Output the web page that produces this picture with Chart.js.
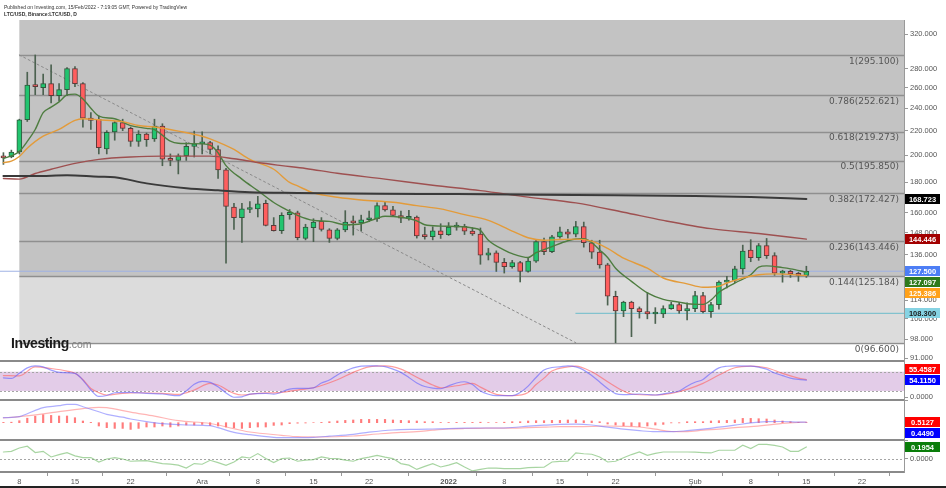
<!DOCTYPE html>
<html><head><meta charset="utf-8">
<script src="https://cdn.jsdelivr.net/npm/chart.js@4.4.1/dist/chart.umd.min.js"></script>
<style>
html,body{margin:0;padding:0;background:#fff;}
#wrap{position:relative;width:946px;height:488px;overflow:hidden;background:#fff;}
#c{position:absolute;left:0;top:0;}
.hdr{position:absolute;left:4px;font-family:'Liberation Sans',Arial,sans-serif;font-size:5px;line-height:6px;color:#333;white-space:nowrap;}
#logo{position:absolute;left:11px;top:335px;font-family:'Liberation Sans',Arial,sans-serif;white-space:nowrap;line-height:16px;}
#bottom{position:absolute;left:0;top:486px;width:946px;height:2px;background:#222;}
</style></head>
<body><div id="wrap">
<canvas id="c" width="946" height="488"></canvas>
<div class="hdr" style="top:4px">Published on Investing.com, 15/Feb/2022 - 7:19:05 GMT, Powered by TradingView</div>
<div class="hdr" style="top:11px;font-weight:bold">LTC/USD, Binance:LTC/USD, D</div>
<div id="logo"><span style="font-size:14px;font-weight:bold;color:#1b1b1b;letter-spacing:-0.4px">Investing</span><span style="font-size:10.5px;color:#7a7a7a">.com</span></div>
<div id="bottom"></div>
</div>
<script>
// ---------- DATA ----------
// days are counted from 8 Nov 2021 (day 0); first candle = 6 Nov 2021
const firstDay = -2;
const xTickDays   = [0, 7, 14, 23, 30, 37, 44, 54, 61, 68, 75, 85, 92, 99, 106];
const xTickLabels = ['8','15','22','Ara','8','15','22','2022','8','15','22','Şub','8','15','22'];
const priceTicks  = [320, 280, 260, 240, 220, 200, 180, 160, 148, 136, 114, 106, 98, 91];

const opens = [199,198.6,202.5,229.5,263,260,264,252,258,280,
  264,231,230,205,219,227,222,211,217,213,
  224,197,196,199.6,207,209,210,204.5,189,163.5,
  157,162,162.4,166,152.3,149.2,158.8,160,144.8,151,
  154.7,149.7,144.8,149.7,154.3,153.8,155.7,156.3,164.5,161.8,
  158.3,156.6,157.3,146.3,145.8,149.2,147,151.3,151.8,149,
  147.3,135.7,137,132,129.8,131.9,127.4,132.6,143,137.6,
  145.7,148.6,147.2,151.7,142.4,137.3,130.7,115.7,109.3,113.1,
  110.3,109,108,108,110.3,112,109.3,110.3,116,109,
  112,122.2,123,128.7,138.4,134.4,140.8,135.5,126.6,127.4,
  126.2,125.5];
const highs = [202,204,230,276,295.1,274,284,264,281,282,
  265,236,233,220,228,230,223,220,218,230,
  226,201,201,210,219.6,219,211,207.5,190,166,
  166,167,170.5,168,157,160,162,161,153,156.3,
  157,150.4,150.5,161.3,158,158.5,161,166.2,167.3,164,
  161,161.5,158,151.3,151.5,153.3,154,154,153,151,
  150.8,139.3,138,134,133,132.5,134,144,145,146.5,
  151.3,150,154.7,154.3,143.8,143.8,131.5,118,113.5,113.5,
  111,117.4,110.7,111.5,113,113,112.8,117.9,117.5,113,
  122.8,125,130,141.1,144.1,142,144.8,137,128,128,
  127,130];
const lows = [193,198,201,228,253,253,245,247,252,261,
  223,221,201,201,212,220,207,207,207,211,
  192,192,186,196,198.6,201,201,182.7,131.5,150,
  142.6,160,157.4,152,149,147.6,156,144,144,143,
  149,142.6,144,148.6,146.7,149,154.5,154.7,161,157.8,
  154,155.5,145,144.4,144,144.8,146.5,149.5,147,146.5,
  131,133.2,127.4,126.6,129,122.3,127,132,136,137,
  145,145,145.7,140,134,129,111.8,96.6,106.9,98.9,
  106.3,106,104.1,106.5,110,108.3,105.6,109,108.5,106.6,
  110,119.5,122,126.1,132.3,133,134,125.5,122.2,124.5,
  122.6,124.5];
const closes = [198,202.5,229.5,262.6,261,264,252,258,280,264,
  231,229,206,218.6,227,222,211,217,212.5,224,
  197,196,199.6,207,209,210,204.5,189,164,157,
  162.4,163,165.6,152.3,149.2,158.4,160.3,145.3,151.3,154.3,
  150,144.8,149.7,154.3,153.8,155.7,156.3,164.5,161.8,158.3,
  156.6,157.3,146.3,145.8,149.2,147,151.3,151.8,149,147.3,
  135.7,137,132,129.8,131.9,127.4,132.6,143,137.6,145.7,
  148.6,147.2,151.7,142.4,137.3,130.7,115.7,109.3,113.1,110.3,
  109,108,108.4,110.3,112,109.3,110.3,116,109,112,
  122.2,123,128.7,137.9,134.4,140.8,135.5,126.6,127.4,126.2,
  125.5,127.5];

// moving averages: [day, value]
const ema9 = [[-2,197.5],[-1,199.5],[0,203],[1,211],[2,221],[3,236],[4,241],[5,246],[6,252.7],[7,253.5],[8,248.8],[9,240],[10,232.8],[12,230.4],[14,224.4],[16,222],[17,220.9],[19,211.2],[20,209.5],[23,209],[24,207.9],[25,201.9],[26,192.1],[28,182.3],[30,174.3],[32,166.5],[33,163.5],[35,158.4],[37,155.3],[39,154.7],[41,152.7],[43,153.3],[45,156.6],[46,157.8],[48,157.2],[50,155],[51,152.7],[53,151.9],[55,151.7],[57,150.8],[58,149.4],[59,143.8],[61,138.4],[62,136.5],[64,134.5],[65,137],[67,140.3],[69,143.5],[70,144.5],[71,144.6],[72,142.5],[73,138.5],[74,134.5],[75,129],[77,122.6],[79,117.2],[81,114.3],[83,113.1],[84,112.4],[86,112.1],[87,114],[88,117.5],[90,121.8],[92,125.8],[93,129.5],[94,130.2],[96,129.3],[97,128.7],[99,127.097]];
const ema20 = [[-2,194.3],[-1,195.5],[0,199],[1,205.5],[3,215.3],[5,221],[7,229],[8,230.4],[10,229.5],[13,227.8],[15,224.4],[17,223.1],[20,219.6],[23,215.3],[24,213.1],[27,204.5],[29,196.8],[32,189.4],[34,180],[35,177.5],[37,172.8],[40,169.9],[43,168.1],[47,166.6],[50,164.5],[53,162.4],[56,158.8],[59,155.3],[62,149],[64,145.2],[66,143.8],[68,144.2],[70,144.4],[72,143.3],[74,139.3],[76,134.1],[79,129],[81,124.2],[84,121.4],[86,119.8],[88,120.3],[89,121.8],[91,124.2],[93,125.8],[95,126.2],[99,125.386]];
const ma100 = [[-2,182.7],[0,182.3],[2,186.3],[4,189.4],[7,193.8],[10,196.8],[14,198.6],[18,199.3],[24,199.3],[27,197.3],[30,194.4],[33,192.1],[36,190],[40,186.5],[46,182.3],[52,178],[58,174.3],[64,170],[70,166.2],[76,160.3],[81,155.3],[87,150.4],[93,147.6],[99,144.446]];
const ma200 = [[-2,184.5],[2,184.5],[6,185],[10,184],[12,183.6],[16,179.3],[21,176],[25,174.5],[29,173.3],[35,172.8],[45,172.3],[55,172],[65,171.6],[75,171.2],[85,170.8],[92,170],[99,168.723]];

// Fibonacci retracement (anchored 8 Nov)
const fibRatios = [1, 0.786, 0.618, 0.5, 0.382, 0.236, 0.144, 0];
const fibPrices = [295.1, 252.621, 219.273, 195.85, 172.427, 143.446, 125.184, 96.6];
const fibStartDay = 0;
const trendLine = [[0, 295.1], [70, 96.6]];
const supportLevel = 108.3, supportStartDay = 70;

// Stochastic RSI
const stochUpper = 80, stochLower = 20;
const stochK = [[-2,61],[-1,59],[0,75],[1,92],[2,98],[3,95],[4,85],[5,78],[7,75],[8,54],[9,23],[10,3],[11,6],[12,14.6],[14,15.8],[16,12.7],[18,10.6],[20,5.3],[21,20],[22,41],[23,50],[24,47],[25,33],[26,14],[27,0.5],[28,2],[29,10],[31,12.7],[32,10],[34,26],[35,28],[37,30],[38,45],[39,54],[40,70],[41,82],[42,92],[43,97.5],[44,98.4],[45,98],[46,96],[47,88],[48,78],[49,62],[50,45],[51,34],[52,29],[53,27],[54,36],[55,45],[56,48.8],[57,40],[58,20],[59,10],[60,5.3],[62,5.3],[63,15],[64,35],[65,62],[66,85],[67,93],[68,95.3],[69,98],[70,95],[71,85],[72,68],[73,48],[74,28],[75,12],[76,9],[78,10.6],[80,7.5],[81,11],[82,15],[83,20],[84,35],[85,47],[86,56],[87,76],[88,92],[89,97],[90,98.4],[92,97.5],[93,94],[94,88],[95,76],[96,68],[97,60],[98,56],[99,54.115]];
const stochD = [[-2,68],[0,67],[2,95],[4,90],[6,82],[7,75],[8,55],[9,28],[10,15],[11,7.5],[13,12.7],[15,14.6],[18,12.7],[20,9.6],[22,23],[24,43.8],[25,38.5],[27,12.7],[28,7.5],[30,12.7],[33,15.8],[35,23],[37,30],[40,55],[42,78],[44,95.3],[46,98.4],[48,88.2],[50,63],[52,38.5],[53,30],[55,36.3],[57,43.8],[58,32],[60,9.6],[62,5.3],[64,15],[65,40],[66,60],[67,82],[69,95.3],[70,97.5],[72,79.8],[74,48.8],[76,19.9],[77,10.6],[80,7.5],[82,12.7],[84,25.2],[86,43.8],[88,69.6],[90,92.2],[92,97.5],[94,92.2],[96,74.8],[98,60],[99,55.4587]];

// MACD
const macdLine = [[-2,5],[0,6],[1,9],[3,15],[5,17],[6,18.4],[7,18.4],[8,16],[9,13.5],[11,8.4],[13,5.5],[14,3.7],[16,1],[18,-1],[21,-2.3],[24,-3],[25,-5],[27,-9.6],[29,-12],[32,-14.6],[34,-15],[37,-14.6],[39,-13.5],[42,-11.6],[44,-9.5],[47,-7.3],[50,-6.6],[52,-6.3],[54,-6],[56,-5.5],[58,-5.3],[60,-5.3],[62,-4.8],[64,-3.5],[66,-2.5],[68,-1.7],[70,-1.5],[72,-2.3],[74,-4.5],[76,-6.5],[78,-8],[80,-9],[82,-9],[84,-8],[86,-6.5],[88,-4.5],[90,-2.5],[92,-0.2],[94,1],[96,1.2],[98,0.6],[99,0.449]];
const signalLine = [[-2,4.8],[0,6],[3,8.8],[5,11],[8,14],[10,15.4],[11,15],[14,10.5],[17,6.5],[20,2],[24,-0.8],[27,-6],[29,-9.3],[33,-12.6],[35,-14],[38,-14.3],[42,-13.3],[45,-11.3],[48,-9.6],[50,-9],[52,-7.5],[54,-6.3],[56,-5.8],[58,-5.6],[60,-5.4],[62,-5.5],[64,-5],[66,-4.5],[68,-4],[70,-4],[72,-3.8],[74,-3.3],[76,-3.6],[78,-4.3],[80,-6.5],[82,-8.8],[84,-9],[86,-7.5],[88,-6.5],[90,-5],[92,-4],[94,-2.5],[96,-0.7],[98,0.3],[99,0.5127]];
const macdHist = [0.3,0.5,2,4.5,6.5,8,7.3,6.7,6.7,5,
  1.7,0.3,-3.3,-5,-5.7,-5.7,-6.7,-5.7,-4.3,-4.3,
  -3.3,-4.3,-3.3,-2.3,-2.3,-1.7,-2.7,-3.3,-4.3,-5,
  -5.7,-5,-4.3,-4.3,-2.7,-2.3,-1,-0.5,-0.3,0,
  0.3,1,1.7,2.3,2.7,3.3,3.3,3.3,3.3,2.7,
  2.3,2,1.7,1,1,0.2,0.2,0.3,0.3,0.3,
  0.5,0.1,0.1,0.5,1,1,1.7,2,2,2.3,
  2.3,2.7,2.7,2,1.7,1,-1.3,-2.3,-3,-3.3,
  -4,-3.3,-2.3,-1.7,-0.2,-0.2,1,1,1,1.7,
  2,2.3,2.7,4.3,4.3,4,3.7,2.7,1.7,1,
  0.3,0.06];

// bottom oscillator (daily)
const osc = [0.114,0.125,0.179,0.207,0.104,0.125,0.033,0.07,0.104,0.05,
  0.023,0.023,-0.049,0,0.023,0,-0.037,-0.03,-0.026,-0.05,
  -0.075,-0.085,-0.1,-0.147,-0.075,-0.086,-0.021,-0.06,-0.103,-0.049,
  0.033,0.016,0.088,0.007,-0.059,0.007,0.016,-0.037,-0.02,-0.01,
  0.033,0.01,0.007,-0.02,-0.037,0.007,0.03,0.06,0.03,0.007,
  -0.075,-0.1,-0.17,-0.12,-0.075,-0.13,-0.1,-0.059,-0.13,-0.195,
  -0.17,-0.147,-0.15,-0.157,-0.157,-0.157,-0.14,-0.137,-0.135,-0.049,
  -0.04,-0.037,0.098,0.085,0.077,0.033,-0.049,-0.037,0.02,0.072,
  0.114,0.06,0.09,0.114,0.114,0.114,0.114,0.11,0.104,0.098,
  0.142,0.142,0.142,0.223,0.169,0.239,0.239,0.22,0.195,0.125,
  0.125,0.1954];

// ---------- CHART ----------
const X_MIN = -2.43, X_MAX = 111.28;
const last = a => a[a.length - 1];
const pairs = a => a.map(([d, v]) => ({x: d, y: v}));
const daily = a => a.map((v, i) => ({x: firstDay + i, y: v}));
const lastClose = last(closes);
const upC = '#22c46f', dnC = '#ff5e5e';

const lineBase = {type: 'line', pointRadius: 0, borderCapStyle: 'round', cubicInterpolationMode: 'monotone', fill: false};

function hLine(ctx, x1, x2, y) { ctx.beginPath(); ctx.moveTo(x1, y); ctx.lineTo(x2, y); ctx.stroke(); }

function placeBoxes(items, scale, dir) {
  const H = 11;
  const list = items.map(it => Object.assign({}, it, {cy: scale.getPixelForValue(it.v)}));
  if (dir > 0) {
    list.sort((a, b) => a.cy - b.cy);
    for (let k = 1; k < list.length; k++) list[k].cy = Math.max(list[k].cy, list[k - 1].cy + H);
  } else {
    list.sort((a, b) => b.cy - a.cy);
    for (let k = 1; k < list.length; k++) list[k].cy = Math.min(list[k].cy, list[k - 1].cy - H);
  }
  return list;
}

const decor = {
  id: 'decor',
  beforeDatasetsDraw(chart) {
    const {ctx, chartArea: a, scales: s} = chart;
    const xs = s.x.getPixelForValue(fibStartDay);
    ctx.save();
    const yLow = s.y.getPixelForValue(fibPrices[fibPrices.length - 2]);
    const yZero = s.y.getPixelForValue(fibPrices[fibPrices.length - 1]);
    ctx.fillStyle = '#c3c3c3';
    ctx.fillRect(xs, s.y.top, a.right - xs, yLow - s.y.top);
    ctx.fillStyle = '#dcdcdc';
    ctx.fillRect(xs, yLow, a.right - xs, yZero - yLow);
    ctx.strokeStyle = '#8f8f8f'; ctx.lineWidth = 1.5;
    fibPrices.forEach(p => hLine(ctx, xs, a.right, Math.round(s.y.getPixelForValue(p)) + 0.5));
    // stochastic band
    const b80 = s.yS.getPixelForValue(stochUpper), b20 = s.yS.getPixelForValue(stochLower);
    ctx.fillStyle = '#e3cce8';
    ctx.fillRect(a.left, b80, a.right - a.left, b20 - b80);
    ctx.setLineDash([2, 2]); ctx.strokeStyle = '#a5a5a5'; ctx.lineWidth = 1;
    hLine(ctx, a.left, a.right, Math.round(b80) + 0.5);
    hLine(ctx, a.left, a.right, Math.round(b20) + 0.5);
    hLine(ctx, a.left, a.right, Math.round(s.yO.getPixelForValue(0)) + 0.5);
    ctx.restore();
  },
  afterDatasetsDraw(chart) {
    const {ctx, chartArea: a, scales: s} = chart;
    ctx.save();
    ctx.font = '9px "DejaVu Sans", sans-serif';
    ctx.fillStyle = '#555'; ctx.textAlign = 'right'; ctx.textBaseline = 'top';
    fibRatios.forEach((r, k) => {
      const py = s.y.getPixelForValue(fibPrices[k]);
      ctx.fillText(r + '(' + fibPrices[k].toFixed(3) + ')', a.right - 5, py + 2);
    });
    ctx.strokeStyle = '#8a8a8a'; ctx.lineWidth = 2;
    [s.yS.top, s.yM.top, s.yO.top, s.yO.bottom].forEach(py => hLine(ctx, a.left, a.right, Math.round(py)));
    ctx.restore();
  },
  afterDraw(chart) {
    const {ctx, scales: s} = chart;
    const groups = [
      [s.y, 1, 3, [
        {v: last(ma200), bg: '#000000', fg: '#fff'},
        {v: last(ma100), bg: '#a30000', fg: '#fff'},
        {v: lastClose, bg: '#4d7ef5', fg: '#fff'},
        {v: last(ema9)[1] === undefined ? 0 : last(ema9)[1], bg: '#2e7a1c', fg: '#fff'},
        {v: last(ema20)[1], bg: '#ffa11a', fg: '#fff'},
        {v: supportLevel, bg: '#86d3e3', fg: '#1a1a1a'}]],
      [s.yS, -1, 4, [
        {v: last(stochD)[1], bg: '#ff0000', fg: '#fff'},
        {v: last(stochK)[1], bg: '#0000ff', fg: '#fff'}]],
      [s.yM, 1, 4, [
        {v: last(signalLine)[1], bg: '#ff0000', fg: '#fff'},
        {v: last(macdLine)[1], bg: '#0000ff', fg: '#fff'}]],
      [s.yO, 1, 4, [{v: last(osc), bg: '#0a7d0a', fg: '#fff'}]]
    ];
    groups[0][3][0].v = last(ma200)[1];
    groups[0][3][1].v = last(ma100)[1];
    ctx.save();
    ctx.font = 'bold 7.5px "Liberation Sans", Arial, sans-serif';
    ctx.textAlign = 'center'; ctx.textBaseline = 'middle';
    const bx = s.y.left + 1, bw = 35;
    groups.forEach(([scale, dir, dec, items]) => {
      placeBoxes(items, scale, dir).forEach(b => {
        ctx.fillStyle = b.bg;
        ctx.fillRect(bx, Math.round(b.cy - 5), bw, 10);
        ctx.fillStyle = b.fg;
        ctx.fillText(b.v.toFixed(dec), bx + bw / 2, Math.round(b.cy) + 0.5);
      });
    });
    ctx.restore();
  }
};

const yCommon = (weight, min, max) => ({
  type: 'linear', position: 'right', stack: 'p', stackWeight: weight, min, max, bounds: 'data',
  afterFit: sc => { sc.width = 42; },
  grid: {drawOnChartArea: false, tickLength: 4, color: '#999'},
  border: {display: true, color: '#999', width: 1},
  ticks: {autoSkip: false, padding: 2, color: '#555', font: {family: "'Liberation Sans', Arial, sans-serif", size: 7.5},
    callback: v => Number(v).toFixed(4)}
});

const yS = yCommon(39, -8, 113.3);
yS.afterBuildTicks = sc => { sc.ticks = [{value: 0}]; };
const yM = yCommon(40, -17.3, 22.7);
yM.ticks.display = false;
const yO = yCommon(32, -0.212, 0.309);
yO.afterBuildTicks = sc => { sc.ticks = [{value: 0}]; };

new Chart(document.getElementById('c'), {
  type: 'line',
  data: {
    datasets: [
      Object.assign({}, lineBase, {label: 'SMA200', data: pairs(ma200), borderColor: '#3a3a3a', borderWidth: 2, yAxisID: 'y', order: 1}),
      Object.assign({}, lineBase, {label: 'SMA100', data: pairs(ma100), borderColor: '#9e5050', borderWidth: 1.4, yAxisID: 'y', order: 1}),
      Object.assign({}, lineBase, {label: 'EMA20', data: pairs(ema20), borderColor: '#e39b3a', borderWidth: 1.4, yAxisID: 'y', order: 1}),
      Object.assign({}, lineBase, {label: 'EMA9', data: pairs(ema9), borderColor: '#4e7d40', borderWidth: 1.4, yAxisID: 'y', order: 1}),
      Object.assign({}, lineBase, {label: 'Trend', data: pairs(trendLine), borderColor: '#8a8a8a', borderWidth: 1, borderDash: [2, 3], cubicInterpolationMode: 'default', tension: 0, yAxisID: 'y', order: 6}),
      Object.assign({}, lineBase, {label: 'Last', data: [{x: X_MIN, y: lastClose}, {x: X_MAX, y: lastClose}], borderColor: '#9fb2e4', borderWidth: 1, yAxisID: 'y', order: 7}),
      Object.assign({}, lineBase, {label: 'Support', data: [{x: supportStartDay, y: supportLevel}, {x: X_MAX, y: supportLevel}], borderColor: '#6cbccb', borderWidth: 1, yAxisID: 'y', order: 7}),
      {type: 'bar', label: 'Wicks', data: lows.map((l, i) => ({x: firstDay + i, y: [l, highs[i]]})),
        backgroundColor: '#4c6250', barThickness: 1, grouped: false, yAxisID: 'y', order: 4},
      {type: 'bar', label: 'Bodies', data: opens.map((o, i) => ({x: firstDay + i, y: [o, closes[i]]})),
        backgroundColor: opens.map((o, i) => closes[i] >= o ? upC : dnC),
        borderColor: opens.map((o, i) => closes[i] >= o ? '#2f5a3c' : '#5e3a3a'),
        borderWidth: 1, borderSkipped: false, barThickness: 5, minBarLength: 2, grouped: false, yAxisID: 'y', order: 3},
      Object.assign({}, lineBase, {label: '%K', data: pairs(stochK), borderColor: 'rgba(95,95,255,0.6)', borderWidth: 1.2, yAxisID: 'yS', order: 1}),
      Object.assign({}, lineBase, {label: '%D', data: pairs(stochD), borderColor: 'rgba(255,95,95,0.6)', borderWidth: 1.2, yAxisID: 'yS', order: 1}),
      {type: 'bar', label: 'Hist', data: daily(macdHist), backgroundColor: 'rgba(255,80,80,0.75)', barThickness: 1.5, grouped: false, yAxisID: 'yM', order: 2},
      Object.assign({}, lineBase, {label: 'MACD', data: pairs(macdLine), borderColor: 'rgba(110,110,255,0.55)', borderWidth: 1.2, yAxisID: 'yM', order: 1}),
      Object.assign({}, lineBase, {label: 'Signal', data: pairs(signalLine), borderColor: 'rgba(255,120,120,0.55)', borderWidth: 1.2, yAxisID: 'yM', order: 1}),
      Object.assign({}, lineBase, {label: 'Osc', data: daily(osc), borderColor: 'rgba(110,185,100,0.6)', borderWidth: 1.2, cubicInterpolationMode: 'default', tension: 0, yAxisID: 'yO', order: 1})
    ]
  },
  options: {
    responsive: false, animation: false, devicePixelRatio: 1, events: [],
    layout: {padding: {top: 20, left: 0, right: 0, bottom: 0}},
    plugins: {legend: {display: false}, tooltip: {enabled: false}},
    scales: {
      x: {type: 'linear', min: X_MIN, max: X_MAX, bounds: 'data', offset: false,
        afterBuildTicks: sc => { sc.ticks = xTickDays.map(v => ({value: v})); },
        afterFit: sc => { sc.height = 16; },
        grid: {drawOnChartArea: false, tickLength: 4, color: '#999'},
        border: {display: false},
        ticks: {autoSkip: false, maxRotation: 0, padding: 1, color: '#555',
          font: c => ({family: "'Liberation Sans', Arial, sans-serif", size: 7.5, weight: (c.tick && c.tick.label === '2022') ? 'bold' : 'normal'}),
          callback: v => { const k = xTickDays.indexOf(v); return k >= 0 ? xTickLabels[k] : ''; }}
      },
      y: {type: 'logarithmic', position: 'right', stack: 'p', stackWeight: 341, min: 90, max: 338, bounds: 'data',
        afterBuildTicks: sc => { sc.ticks = priceTicks.map(v => ({value: v})); },
        afterFit: sc => { sc.width = 42; },
        grid: {drawOnChartArea: false, tickLength: 4, color: '#999'},
        border: {display: true, color: '#999', width: 1},
        ticks: {autoSkip: false, padding: 2, color: '#555', font: {family: "'Liberation Sans', Arial, sans-serif", size: 7.5},
          callback: v => Number(v).toFixed(3)}
      },
      yS: yS,
      yM: yM,
      yO: yO
    }
  },
  plugins: [decor]
});
</script>
</body></html>
